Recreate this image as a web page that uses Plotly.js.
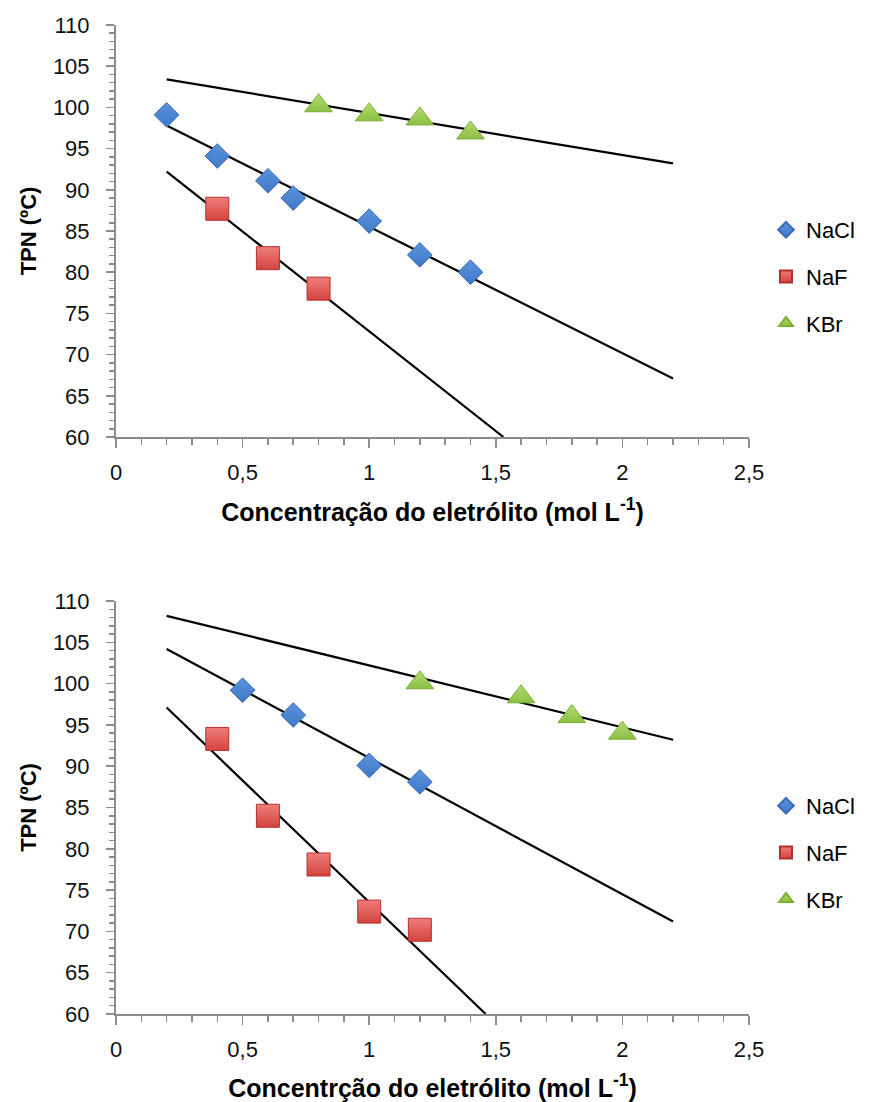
<!DOCTYPE html>
<html>
<head>
<meta charset="utf-8">
<script src="https://cdn.plot.ly/plotly-3.0.1.min.js"></script>
<style>html,body{margin:0;padding:0;background:#fff;}#chart{width:893px;height:1102px;}</style>
</head>
<body>
<div id="chart"></div>
<script>
// ---- data: top chart ----
var topNaClConc = [0.2, 0.4, 0.6, 0.7, 1.0, 1.2, 1.4];
var topNaClTPN  = [99.1, 94.1, 91.1, 89.0, 86.2, 82.1, 80.0];
var topNaFConc  = [0.4, 0.6, 0.8];
var topNaFTPN   = [87.7, 81.7, 78.0];
var topKBrConc  = [0.8, 1.0, 1.2, 1.4];
var topKBrTPN   = [100.2, 99.1, 98.6, 96.9];
// trend lines (visible end points) top
var topTrendNaClX = [0.2, 2.2];   var topTrendNaClY = [97.8, 67.1];
var topTrendNaFX  = [0.2, 1.53];  var topTrendNaFY  = [92.2, 60.0];
var topTrendKBrX  = [0.2, 2.2];   var topTrendKBrY  = [103.4, 93.2];

// ---- data: bottom chart ----
var botNaClConc = [0.5, 0.7, 1.0, 1.2];
var botNaClTPN  = [99.2, 96.2, 90.1, 88.1];
var botNaFConc  = [0.4, 0.6, 0.8, 1.0, 1.2];
var botNaFTPN   = [93.3, 84.0, 78.1, 72.4, 70.2];
var botKBrConc  = [1.2, 1.6, 1.8, 2.0];
var botKBrTPN   = [100.1, 98.4, 96.0, 94.0];
var botTrendNaClX = [0.2, 2.2];   var botTrendNaClY = [104.2, 71.2];
var botTrendNaFX  = [0.2, 1.46];  var botTrendNaFY  = [97.1, 60.0];
var botTrendKBrX  = [0.2, 2.2];   var botTrendKBrY  = [108.2, 93.2];

var seriesNames = ['NaCl', 'NaF', 'KBr'];
var xTickVals = [0, 0.5, 1, 1.5, 2, 2.5];
var xTickText = ['0', '0,5', '1', '1,5', '2', '2,5'];
var xTitleTop = 'Concentração do eletrólito (mol L<sup>-1</sup>)';
var xTitleBot = 'Concentrção do eletrólito (mol L<sup>-1</sup>)';
var yTitle = 'TPN (ºC)';

var FONT = 'Liberation Sans, Arial, sans-serif';
var styles = {
  NaCl: {symbol: 'diamond', size: 19, color: '#5B93DB', grad: '#3F78C8', line: '#3A6DB5'},
  NaF:  {symbol: 'square', size: 23, color: '#EE7E7A', grad: '#D4433F', line: '#B5302D'},
  KBr:  {symbol: 'triangle-up', size: 24, color: '#B4DB72', grad: '#8CC043', line: '#7AAE35'}
};

function pts(name, xs, ys, xa, ya, leg) {
  var s = styles[name];
  return {
    type: 'scatter', mode: 'markers', name: name, x: xs, y: ys,
    xaxis: xa, yaxis: ya, legend: leg, legendgroup: leg + name,
    marker: {symbol: s.symbol, size: s.size, color: s.color,
      gradient: {type: 'vertical', color: s.grad},
      line: {color: s.line, width: 1}},
    cliponaxis: false
  };
}
function trend(xs, ys, xa, ya) {
  return {type: 'scatter', mode: 'lines', x: xs, y: ys, xaxis: xa, yaxis: ya,
    line: {color: '#000', width: 2.2}, showlegend: false, hoverinfo: 'skip'};
}

var data = [
  trend(topTrendKBrX, topTrendKBrY, 'x', 'y'),
  trend(topTrendNaClX, topTrendNaClY, 'x', 'y'),
  trend(topTrendNaFX, topTrendNaFY, 'x', 'y'),
  pts('NaCl', topNaClConc, topNaClTPN, 'x', 'y', 'legend'),
  pts('NaF', topNaFConc, topNaFTPN, 'x', 'y', 'legend'),
  pts('KBr', topKBrConc, topKBrTPN, 'x', 'y', 'legend'),
  trend(botTrendKBrX, botTrendKBrY, 'x2', 'y2'),
  trend(botTrendNaClX, botTrendNaClY, 'x2', 'y2'),
  trend(botTrendNaFX, botTrendNaFY, 'x2', 'y2'),
  pts('NaCl', botNaClConc, botNaClTPN, 'x2', 'y2', 'legend2'),
  pts('NaF', botNaFConc, botNaFTPN, 'x2', 'y2', 'legend2'),
  pts('KBr', botKBrConc, botKBrTPN, 'x2', 'y2', 'legend2')
];

var W = 893, H = 1102;
var xDom = [116 / W, 749 / W];
function xaxis(title, anchor) {
  return {
    domain: xDom, anchor: anchor, range: [0, 2.5], autorange: false,
    tickmode: 'array', tickvals: xTickVals, ticktext: xTickText,
    showgrid: false, zeroline: false, showline: true, linecolor: '#8C8C8C', linewidth: 2,
    ticks: 'outside', ticklen: 9, tickwidth: 1.5, tickcolor: '#8C8C8C',
    minor: {dtick: 0.1, tick0: 0, ticks: 'outside', ticklen: 6, tickwidth: 1.5, tickcolor: '#8C8C8C', showgrid: false},
    tickfont: {family: FONT, size: 22, color: '#111'},
    ticklabelstandoff: 6,
    title: {text: title, font: {family: FONT, size: 25, color: '#000', weight: 'bold'}, standoff: 19},
    automargin: false, fixedrange: true
  };
}
function yaxis(dom, anchor) {
  return {
    domain: dom, anchor: anchor, range: [60, 110], autorange: false,
    tick0: 60, dtick: 5,
    showgrid: false, zeroline: false, showline: true, linecolor: '#8C8C8C', linewidth: 2,
    ticks: 'outside', ticklen: 8, tickwidth: 1.5, tickcolor: '#8C8C8C',
    minor: {dtick: 1, ticks: 'outside', ticklen: 5, tickwidth: 1.5, tickcolor: '#8C8C8C', showgrid: false},
    tickfont: {family: FONT, size: 22, color: '#111'},
    ticklabelstandoff: 12,
    title: {text: yTitle, font: {family: FONT, size: 22, color: '#000', weight: 'bold'}, standoff: 10},
    automargin: false, fixedrange: true
  };
}
function legend(topPx) {
  return {
    x: 766 / W, xanchor: 'left', y: 1 - topPx / H, yanchor: 'top',
    bgcolor: 'rgba(0,0,0,0)', borderwidth: 0,
    font: {family: FONT, size: 22, color: '#000'},
    tracegroupgap: 15, itemsizing: 'constant'
  };
}

var layout = {
  width: W, height: H,
  margin: {l: 0, r: 0, t: 0, b: 0},
  paper_bgcolor: '#fff', plot_bgcolor: '#fff',
  showlegend: true,
  xaxis: xaxis(xTitleTop, 'y'),
  yaxis: yaxis([1 - 437 / H, 1 - 25 / H], 'x'),
  xaxis2: xaxis(xTitleBot, 'y2'),
  yaxis2: yaxis([1 - 1014 / H, 1 - 601 / H], 'x2'),
  legend: legend(209),
  legend2: legend(785)
};

Plotly.newPlot('chart', data, layout, {displayModeBar: false, staticPlot: true});
</script>
</body>
</html>
